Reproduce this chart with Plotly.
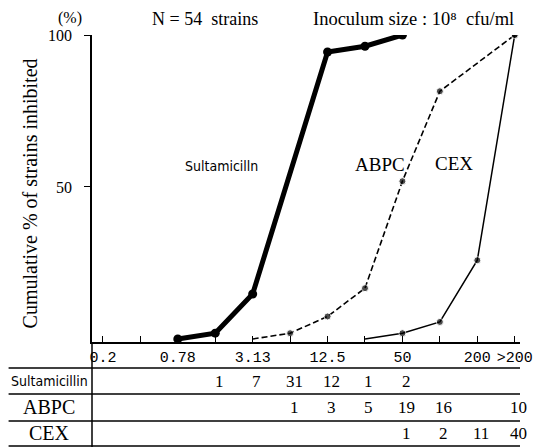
import plotly.graph_objects as go

# ---- data ----
concentrations = ["0.2", "0.39", "0.78", "1.56", "3.13", "6.25", "12.5", "25", "50", "100", "200", ">200"]
shown_ticks = ["0.2", "0.78", "3.13", "12.5", "50", "200", ">200"]

sult_x = ["0.78", "1.56", "3.13", "12.5", "25", "50"]
sult_y = [0, 1.9, 14.8, 94.4, 96.3, 100]

abpc_x = ["3.13", "6.25", "12.5", "25", "50", "100", ">200"]
abpc_y = [0, 1.9, 7.4, 16.7, 51.9, 81.5, 100]

cex_x = ["25", "50", "100", "200", ">200"]
cex_y = [0, 1.9, 5.6, 25.9, 100]

table_rows = ["Sultamicillin", "ABPC", "CEX"]
sult_counts = {"1.56": 1, "3.13": 7, "6.25": 31, "12.5": 12, "25": 1, "50": 2}
abpc_counts = {"6.25": 1, "12.5": 3, "25": 5, "50": 19, "100": 16, ">200": 10}
cex_counts = {"50": 1, "100": 2, "200": 11, ">200": 40}
counts = [sult_counts, abpc_counts, cex_counts]

# ---- layout geometry ----
# the page body has an 8px margin, so the figure is drawn 8px in from the window corner
OFF = 8
W, H = 545 - OFF, 448 - OFF
L, T = 92 - OFF, 35 - OFF
PR, PB = 523 - OFF, 342 - OFF          # right / bottom edges of plot area (figure px)
R, B = W - PR, H - PB
PW, PH = PR - L, PB - T
X0, DX = 103 - OFF, 37.7               # pixel of first category, spacing


def px(p):  # window pixel -> paper x
    return (p - OFF - L) / PW


def py(p):  # window pixel -> paper y
    return (PB - (p - OFF)) / PH


def idx(labels):
    return [concentrations.index(c) for c in labels]


SERIF = "Liberation Serif, Times New Roman, serif"
NARROW = "DejaVu Sans Condensed, Liberation Sans, sans-serif"
MONO = "Liberation Mono, DejaVu Sans Mono, monospace"

fig = go.Figure()

fig.add_trace(go.Scatter(
    x=idx(sult_x), y=sult_y, mode="lines+markers",
    line=dict(color="black", width=5),
    marker=dict(color="black", size=9),
    showlegend=False,
))
fig.add_trace(go.Scatter(
    x=idx(abpc_x), y=abpc_y, mode="lines+markers",
    line=dict(color="black", width=1.6, dash="6px,3px"),
    marker=dict(color="black", size=[0] + [7] * (len(abpc_x) - 1)),
    showlegend=False,
))
fig.add_trace(go.Scatter(
    x=idx(cex_x), y=cex_y, mode="lines+markers",
    line=dict(color="black", width=1.5),
    marker=dict(color="black", size=[0] + [7] * (len(cex_x) - 1)),
    showlegend=False,
))


def ann(x, y, text, font, xref="paper", yref="paper", **kw):
    d = dict(x=x, y=y, xref=xref, yref=yref, text=text, showarrow=False,
             xanchor="center", yanchor="middle", font=font)
    d.update(kw)
    return d


annotations = []
annotations.append(ann(px(70), py(18), "(%)", dict(family=SERIF, size=16, color="black")))
annotations.append(ann(px(206), py(19), "N = 54  strains", dict(family=SERIF, size=18, color="black")))
annotations.append(ann(px(416), py(19), "Inoculum size : 10\u2078  cfu/ml",
                       dict(family=SERIF, size=18.5, color="black")))
annotations.append(ann(px(30), py(193), "Cumulative % of strains inhibited",
                       dict(family=SERIF, size=20, color="black"), textangle=-90))


def dx(p):  # window pixel -> category index
    return (p - OFF - X0) / DX


def dy(p):  # window pixel -> y value
    return (PB - (p - OFF)) / PH * 101 - 1


annotations.append(ann(dx(222), dy(166), "Sultamicilln", dict(family=NARROW, size=14, color="black"),
                       xref="x", yref="y"))
annotations.append(ann(dx(382), dy(164), "ABPC", dict(family=SERIF, size=19, color="black"),
                       xref="x", yref="y"))
annotations.append(ann(dx(457), dy(163), "CEX", dict(family=SERIF, size=19, color="black"),
                       xref="x", yref="y"))

row_centers = [381, 407, 433]
for name, cy, cnt in zip(table_rows, row_centers, counts):
    if name == "Sultamicillin":
        f = dict(family=NARROW, size=14, color="black")
    else:
        f = dict(family=SERIF, size=20, color="black")
    annotations.append(ann(px(49), py(cy), name, f))
    for c, v in cnt.items():
        annotations.append(ann(concentrations.index(c), py(cy), str(v),
                               dict(family=SERIF, size=17, color="black"), xref="x", xshift=4))

shapes = []
shapes.append(dict(type="line", xref="paper", yref="paper", x0=px(92), x1=px(92),
                   y0=py(342), y1=py(447), line=dict(color="black", width=1.5)))
for yy in [368, 394, 421, 446]:
    shapes.append(dict(type="line", xref="paper", yref="paper", x0=px(8), x1=px(523),
                       y0=py(yy), y1=py(yy), line=dict(color="black", width=1.5)))

fig.update_layout(
    width=W, height=H,
    margin=dict(l=L, r=R, t=T, b=B, pad=0),
    plot_bgcolor="white", paper_bgcolor="white",
    annotations=annotations, shapes=shapes,
    xaxis=dict(
        range=[(L - X0) / DX, (PR - X0) / DX],
        tickmode="array", tickvals=idx(shown_ticks), ticktext=shown_ticks,
        ticks="inside", ticklen=6, tickwidth=1.2, tickcolor="black",
        minor=dict(tickmode="array", tickvals=list(range(len(concentrations))),
                   ticks="inside", ticklen=6, tickwidth=1.2, tickcolor="black", showgrid=False),
        showline=True, linecolor="black", linewidth=1.5,
        showgrid=False, zeroline=False,
        tickfont=dict(family=MONO, size=15, color="black"),
    ),
    yaxis=dict(
        range=[-1, 100],
        tickmode="array", tickvals=[50, 100], ticktext=["50", "100"],
        ticks="outside", ticklen=6, tickwidth=1.2, tickcolor="black",
        ticklabelstandoff=9,
        showline=True, linecolor="black", linewidth=1.5,
        showgrid=False, zeroline=False,
        tickfont=dict(family=SERIF, size=16, color="black"),
    ),
)

fig.write_html("out.html")
